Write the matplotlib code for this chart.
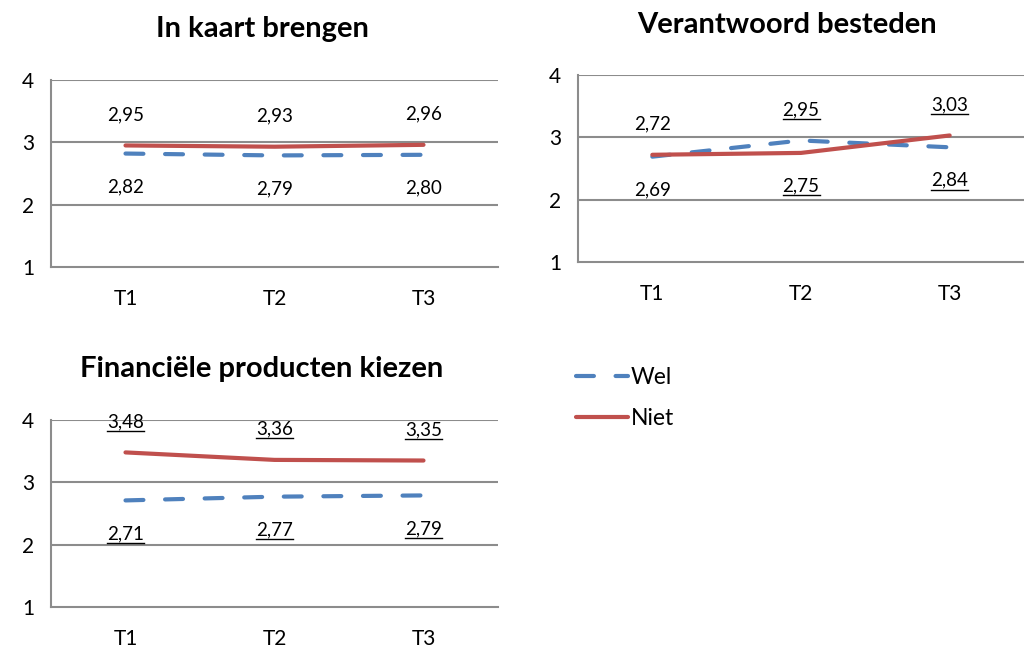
import matplotlib
matplotlib.use("Agg")
import matplotlib.pyplot as plt
from matplotlib.lines import Line2D

plt.rcParams['font.family'] = ['Lato', 'DejaVu Sans']

periods = ["T1", "T2", "T3"]
y_ticks = [1, 2, 3, 4]

titles = ["In kaart brengen", "Verantwoord besteden", "Financiële producten kiezen"]

wel_kaart = [2.82, 2.79, 2.80]
niet_kaart = [2.95, 2.93, 2.96]
wel_besteden = [2.69, 2.95, 2.84]
niet_besteden = [2.72, 2.75, 3.03]
wel_kiezen = [2.71, 2.77, 2.79]
niet_kiezen = [3.48, 3.36, 3.35]

# which labels are underlined (significant differences)
ul_wel_kaart = [False, False, False]
ul_niet_kaart = [False, False, False]
ul_wel_besteden = [False, True, True]
ul_niet_besteden = [False, True, True]
ul_wel_kiezen = [True, True, True]
ul_niet_kiezen = [True, True, True]

BLUE = "#4F81BD"
RED = "#C0504D"
GRID = "#8C8C8C"

fig = plt.figure(figsize=(10.24, 6.48), dpi=100)

panels = [
    dict(rect=[51/1024, 1-267/648, 447/1024, 187/648], title=titles[0], tpos=(262, 29),
         wel=wel_kaart, niet=niet_kaart, uw=ul_wel_kaart, un=ul_niet_kaart),
    dict(rect=[578/1024, 1-262/648, 446/1024, 187/648], title=titles[1], tpos=(787, 25),
         wel=wel_besteden, niet=niet_besteden, uw=ul_wel_besteden, un=ul_niet_besteden),
    dict(rect=[51/1024, 1-607/648, 447/1024, 187/648], title=titles[2], tpos=(262, 369),
         wel=wel_kiezen, niet=niet_kiezen, uw=ul_wel_kiezen, un=ul_niet_kiezen),
]

labels_to_underline = []
handles = None
x = list(range(len(periods)))

for p in panels:
    ax = fig.add_axes(p["rect"])
    lw, = ax.plot(x, p["wel"], color=BLUE, lw=3, dashes=(4.3, 5.2),
                  dash_capstyle="round", solid_capstyle="round", label="Wel", zorder=3)
    ln, = ax.plot(x, p["niet"], color=RED, lw=3, solid_capstyle="round",
                  label="Niet", zorder=4)
    handles = [lw, ln]
    ax.set_xlim(-0.5, 2.5)
    ax.set_ylim(1, 4)
    ax.set_yticks(y_ticks)
    ax.set_xticks(x)
    ax.set_xticklabels(periods)
    ax.tick_params(length=0, labelsize=15, colors="black")
    ax.tick_params(axis="y", pad=12)
    ax.tick_params(axis="x", pad=16)
    for s in ["top", "right"]:
        ax.spines[s].set_visible(False)
    for s in ["left", "bottom"]:
        ax.spines[s].set_color(GRID)
        ax.spines[s].set_linewidth(1.5)
    for yv in [2, 3, 4]:
        ax.axhline(yv, color=GRID, lw=1.5, zorder=1)
    ax.set_facecolor("white")

    for i in x:
        w, n = p["wel"][i], p["niet"][i]
        for val, ul, other in [(w, p["uw"][i], n), (n, p["un"][i], w)]:
            off = 31 if val >= other else -33
            t = ax.annotate(f"{val:.2f}".replace(".", ","), (i, val),
                            xytext=(0, off), textcoords="offset pixels",
                            ha="center", va="center", fontsize=13.5)
            if ul:
                labels_to_underline.append(t)

    fig.text(p["tpos"][0]/1024, 1-p["tpos"][1]/648, p["title"], ha="center",
             va="center", fontsize=21, fontweight="bold")

leg = fig.legend(handles=handles, labels=["Wel", "Niet"], loc="center left",
                 bbox_to_anchor=(555/1024, 1-398/648), frameon=False, fontsize=16.5,
                 handlelength=2.3, handletextpad=0.1, labelspacing=0.9)

fig.canvas.draw()
renderer = fig.canvas.get_renderer()
for t in labels_to_underline:
    bb = t.get_window_extent(renderer)
    y0 = bb.y0 - 1
    fig.add_artist(Line2D([bb.x0 / 1024, bb.x1 / 1024], [y0 / 648, y0 / 648],
                          color="black", lw=1.0, transform=fig.transFigure))

fig.savefig("out.png", dpi=100, facecolor="white")
